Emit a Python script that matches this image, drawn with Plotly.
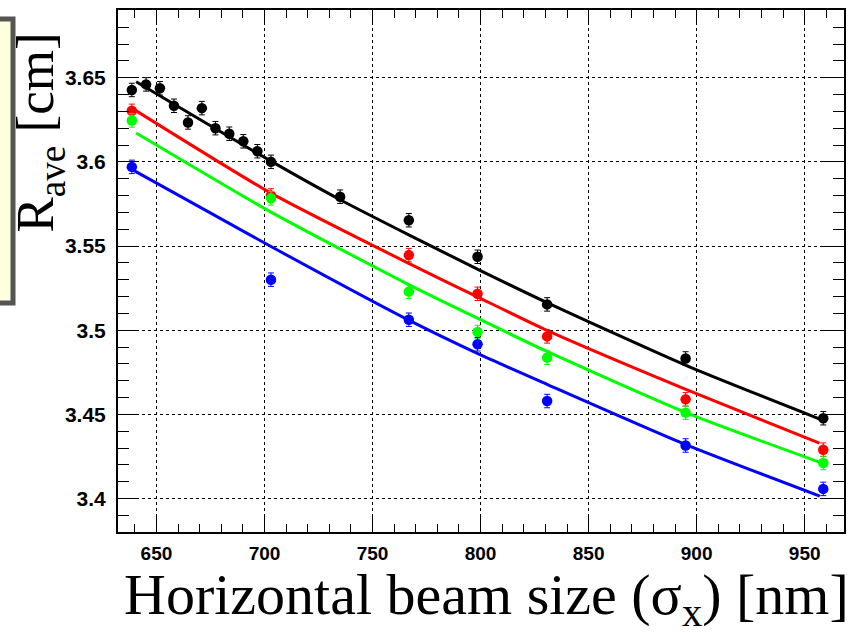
import plotly.graph_objects as go

# ---- data ----
black_x = [638.6, 645.2, 651.6, 658.1, 664.6, 671.0, 677.3, 683.7, 690.2, 696.7,
           703.0, 735.0, 766.8, 798.6, 830.8, 894.9, 958.6]
black_y = [3.6427, 3.6460, 3.6437, 3.6333, 3.6234, 3.6319, 3.6200, 3.6167, 3.6122, 3.6063,
           3.6000, 3.5793, 3.5653, 3.5436, 3.5153, 3.4832, 3.4477]
black_err = [0.004, 0.004, 0.004, 0.004, 0.004, 0.004, 0.004, 0.004, 0.004, 0.004,
             0.004, 0.004, 0.004, 0.004, 0.004, 0.004, 0.004]

scan_x = [638.6, 703.0, 766.8, 798.6, 830.8, 894.9, 958.6]
red_y = [3.6303, 3.5800, 3.5446, 3.5216, 3.4963, 3.4589, 3.4290]
green_y = [3.6246, 3.5783, 3.5229, 3.4989, 3.4837, 3.4510, 3.4211]
blue_y = [3.5970, 3.5300, 3.5062, 3.4916, 3.4579, 3.4315, 3.4057]
scan_err = [0.004, 0.004, 0.004, 0.004, 0.004, 0.004, 0.004]

black_fit_x = [640.6, 703.0, 735.0, 767.0, 799.0, 831.0, 895.0, 957.0]
black_fit_y = [3.6476, 3.6004, 3.5775, 3.5565, 3.5360, 3.5162, 3.4791, 3.4472]
red_fit_x = [638.6, 703.0, 767.0, 799.0, 831.0, 895.0, 956.8]
red_fit_y = [3.6319, 3.5814, 3.5395, 3.5195, 3.4997, 3.4648, 3.4329]
green_fit_x = [640.6, 703.0, 767.0, 799.0, 831.0, 895.0, 957.0]
green_fit_y = [3.6171, 3.5701, 3.5269, 3.5068, 3.4872, 3.4510, 3.4215]
blue_fit_x = [638.6, 703.0, 767.0, 799.0, 831.0, 895.0, 957.0]
blue_fit_y = [3.5955, 3.5497, 3.5058, 3.4859, 3.4677, 3.4320, 3.4014]

x_title = "Horizontal beam size (σ<sub>x</sub>) [nm]"
y_title = "R<sub>ave</sub> [cm]"

fig = go.Figure()

fits = [(black_fit_x, black_fit_y, "black"), (red_fit_x, red_fit_y, "#ff0000"),
        (green_fit_x, green_fit_y, "#00ff00"), (blue_fit_x, blue_fit_y, "#0000ff")]
for fx, fy, c in fits:
    fig.add_trace(go.Scatter(x=fx, y=fy, mode="lines",
                             line=dict(color=c, width=3, shape="spline", smoothing=0.6),
                             showlegend=False, hoverinfo="skip"))

pts = [(black_x, black_y, black_err, "black"), (scan_x, red_y, scan_err, "#ff0000"),
       (scan_x, green_y, scan_err, "#00ff00"), (scan_x, blue_y, scan_err, "#0000ff")]
for px, py, pe, c in pts:
    fig.add_trace(go.Scatter(x=px, y=py, mode="markers",
                             marker=dict(color=c, size=10.5, symbol="circle"),
                             error_y=dict(type="data", array=pe, color=c, thickness=1, width=3),
                             showlegend=False))

tick_family = "Liberation Sans"

fig.update_layout(
    width=858, height=632,
    margin=dict(l=118, r=14, t=8, b=100),
    paper_bgcolor="white", plot_bgcolor="white",
    showlegend=False,
    font=dict(family="Liberation Sans", color="black"),
)

fig.update_xaxes(
    range=[632.2, 968.2], dtick=50, tick0=650,
    showline=True, linecolor="black", linewidth=2, mirror="allticks",
    ticks="inside", ticklen=15, tickwidth=1, tickcolor="black",
    showgrid=True, gridcolor="black", gridwidth=1, griddash="dot",
    zeroline=False, ticklabelstandoff=3,
    tickfont=dict(family=tick_family, size=19, color="black", weight="bold"),
    minor=dict(dtick=10, ticks="inside", ticklen=8, tickwidth=1, tickcolor="black", showgrid=False),
)
fig.update_yaxes(
    range=[3.3801, 3.6902], dtick=0.05, tick0=3.4,
    showline=True, linecolor="black", linewidth=2, mirror="allticks",
    ticks="inside", ticklen=21, tickwidth=1, tickcolor="black",
    showgrid=True, gridcolor="black", gridwidth=1, griddash="dot",
    zeroline=False, ticklabelstandoff=6,
    tickfont=dict(family=tick_family, size=21, color="black", weight="bold"),
    minor=dict(dtick=0.01, ticks="inside", ticklen=11, tickwidth=1, tickcolor="black", showgrid=False),
)

# partially visible legend box at the left edge
fig.add_shape(type="rect", xref="paper", yref="paper",
              x0=-0.22, x1=(13 - 118) / 726, y0=(532 - 302) / 524, y1=(532 - 17) / 524,
              line=dict(color="#555555", width=5), fillcolor="#ffffe0", layer="above")

fig.add_annotation(text=y_title, xref="paper", yref="paper",
                   x=(39 - 118) / 726, y=(532 - 131) / 524, textangle=-90,
                   xanchor="center", yanchor="middle", showarrow=False,
                   font=dict(family="Liberation Serif", size=53, color="black"))
fig.add_annotation(text=x_title, xref="paper", yref="paper",
                   x=(486 - 118) / 726, y=(532 - 599) / 524,
                   xanchor="center", yanchor="middle", showarrow=False,
                   font=dict(family="Liberation Serif", size=58, color="black"))

fig.write_html("out.html", config={"displayModeBar": False},
               post_script="document.body.style.margin='0';document.body.style.overflow='hidden';")
